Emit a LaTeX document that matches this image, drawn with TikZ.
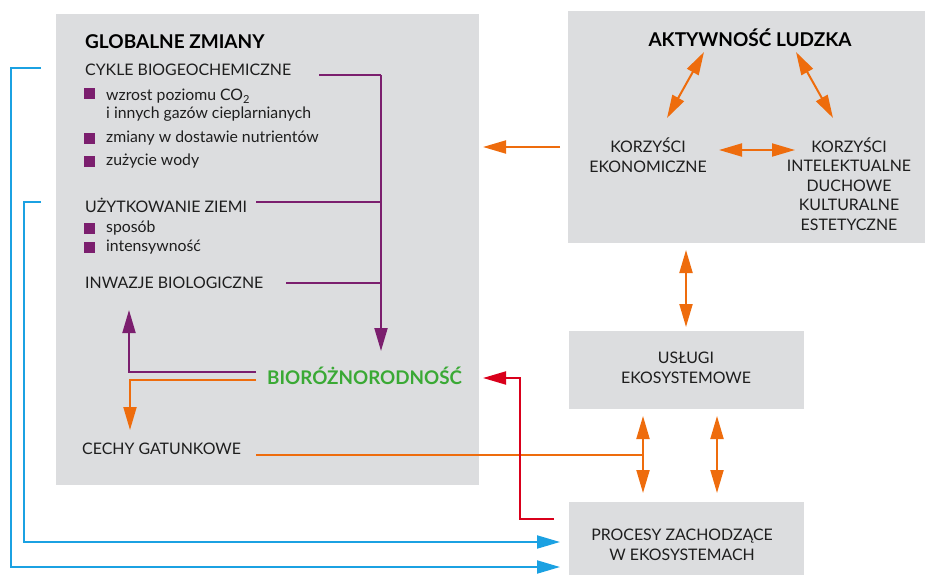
\documentclass[tikz,border=0pt]{standalone}
\usepackage{fontspec}
\setmainfont{Lato}
\usetikzlibrary{arrows.meta}
\definecolor{boxgray}{HTML}{DCDDDF}
\definecolor{dpurple}{HTML}{7B1E6E}
\definecolor{dorange}{HTML}{EE6C0D}
\definecolor{dgreen}{HTML}{3AA935}
\definecolor{dblue}{HTML}{1BA1E2}
\definecolor{dred}{HTML}{D9001B}
\definecolor{txt}{HTML}{1E1E1E}
\tikzset{
  panel/.style={fill=boxgray, draw=none},
  lbl/.style={font=\fontsize{15.9}{19.5}\selectfont, text=txt, inner sep=0pt},
  lblc/.style={lbl, align=center},
  bul/.style={font=\fontsize{15.8}{18}\selectfont, text=txt, inner sep=0pt, align=left},
  head/.style={font=\bfseries\fontsize{19}{22}\selectfont, text=black, inner sep=0pt},
  sq/.style={fill=dpurple, minimum size=11pt, inner sep=0pt},
  tip/.style={-{Triangle[length=23pt,width=13pt]}},
  dtip/.style={{Triangle[length=23pt,width=13pt]}-{Triangle[length=23pt,width=13pt]}},
  pline/.style={draw=dpurple, line width=2pt},
  oline/.style={draw=dorange, line width=2pt},
  bline/.style={draw=dblue, line width=2pt},
  rline/.style={draw=dred, line width=2pt},
}
\begin{document}
\begin{tikzpicture}[x=1pt,y=-1pt]
\useasboundingbox (0,0) rectangle (925,575);
% panels
\fill[panel] (56,14) rectangle (479,485);
\fill[panel] (568,11) rectangle (925,243);
\fill[panel] (569,331) rectangle (804,409);
\fill[panel] (569,502) rectangle (804,575);

% left texts
\node[head, anchor=west] (gm) at (85,42) {GLOBALNE ZMIANY};
\node[lbl, anchor=west] (cykle) at (85,70) {CYKLE BIOGEOCHEMICZNE};
\node[sq] (s1) at (89.5,93.5) {};
\node[bul, anchor=north west] (b1) at (106,89) {wzrost poziomu CO\textsubscript{2}\\i innych gazów cieplarnianych};
\node[sq] (s2) at (89.5,138) {};
\node[bul, anchor=west] (b2) at (106,138) {zmiany w dostawie nutrientów};
\node[sq] (s3) at (89.5,161) {};
\node[bul, anchor=west] (b3) at (106,161) {zużycie wody};
\node[lbl, anchor=west] (uz) at (85,205) {UŻYTKOWANIE ZIEMI};
\node[sq] (s4) at (89.5,228) {};
\node[bul, anchor=west] (b4) at (106,228) {sposób};
\node[sq] (s5) at (89.5,247) {};
\node[bul, anchor=west] (b5) at (106,247) {intensywność};
\node[lbl, anchor=west] (inw) at (85,283) {INWAZJE BIOLOGICZNE};
\node[font=\bfseries\fontsize{18.8}{22}\selectfont, text=dgreen, inner sep=0pt, anchor=west] (bio) at (267,376) {BIORÓŻNORODNOŚĆ};
\node[lbl, anchor=west] (cechy) at (82,449) {CECHY GATUNKOWE};

% right texts
\node[head] (akt) at (750,38) {AKTYWNOŚĆ LUDZKA};
\node[lblc] (kek) at (648,155) {KORZYŚCI\\EKONOMICZNE};
\node[lblc] (kint) at (849,184) {KORZYŚCI\\INTELEKTUALNE\\DUCHOWE\\KULTURALNE\\ESTETYCZNE};
\node[lblc] (usl) at (686,368) {USŁUGI\\EKOSYSTEMOWE};
\node[lblc] (proc) at (682,545) {PROCESY ZACHODZĄCE\\W EKOSYSTEMACH};

% coordinates
\coordinate (pc1) at (319,75);
\coordinate (pc2) at (256,202);
\coordinate (pc3) at (286,283);
\coordinate (pj) at (381,75);
\coordinate (pt) at (381,351);
\coordinate (bp1) at (256,372);
\coordinate (bp2) at (129,310);
\coordinate (bo1) at (256,380);
\coordinate (bo2) at (130,430);
\coordinate (co1) at (256,455);
\coordinate (ua) at (643,416);
\coordinate (ub) at (643,493);
\coordinate (uc) at (717,416);
\coordinate (ud) at (717,493);
\coordinate (av1) at (686,250);
\coordinate (av2) at (686,327);
\coordinate (ke) at (560,147);
\coordinate (ket) at (483,147);
\coordinate (a1) at (704,52);
\coordinate (a2) at (667,118);
\coordinate (a3) at (796,52);
\coordinate (a4) at (833,118);
\coordinate (h1) at (719,150);
\coordinate (h2) at (795,150);
\coordinate (r1) at (554,519);
\coordinate (rt) at (483,378);
\coordinate (bl1) at (41,68);
\coordinate (bl2) at (41,202);
\coordinate (blt1) at (560,567);
\coordinate (blt2) at (560,542);

% purple
\draw[pline] (pc1) -- (pj);
\draw[pline] (pc2) -- (pj |- pc2);
\draw[pline] (pc3) -- (pj |- pc3);
\draw[pline, tip] (pj) -- (pt);
\draw[pline, tip] (bp1) -| (bp2);
% orange
\draw[oline, tip] (bo1) -| (bo2);
\draw[oline] (co1) -- (ua |- co1);
\draw[oline, dtip] (ua) -- (ub);
\draw[oline, dtip] (uc) -- (ud);
\draw[oline, dtip] (av1) -- (av2);
\draw[oline, tip] (ke) -- (ket);
\draw[oline, dtip] (a1) -- (a2);
\draw[oline, dtip] (a3) -- (a4);
\draw[oline, dtip] (h1) -- (h2);
% red
\draw[rline, tip] (r1) -- (520,519) |- (rt);
% blue
\draw[bline, tip] (bl1) -- (11,68) |- (blt1);
\draw[bline, tip] (bl2) -- (24,202) |- (blt2);
\end{tikzpicture}
\end{document}
